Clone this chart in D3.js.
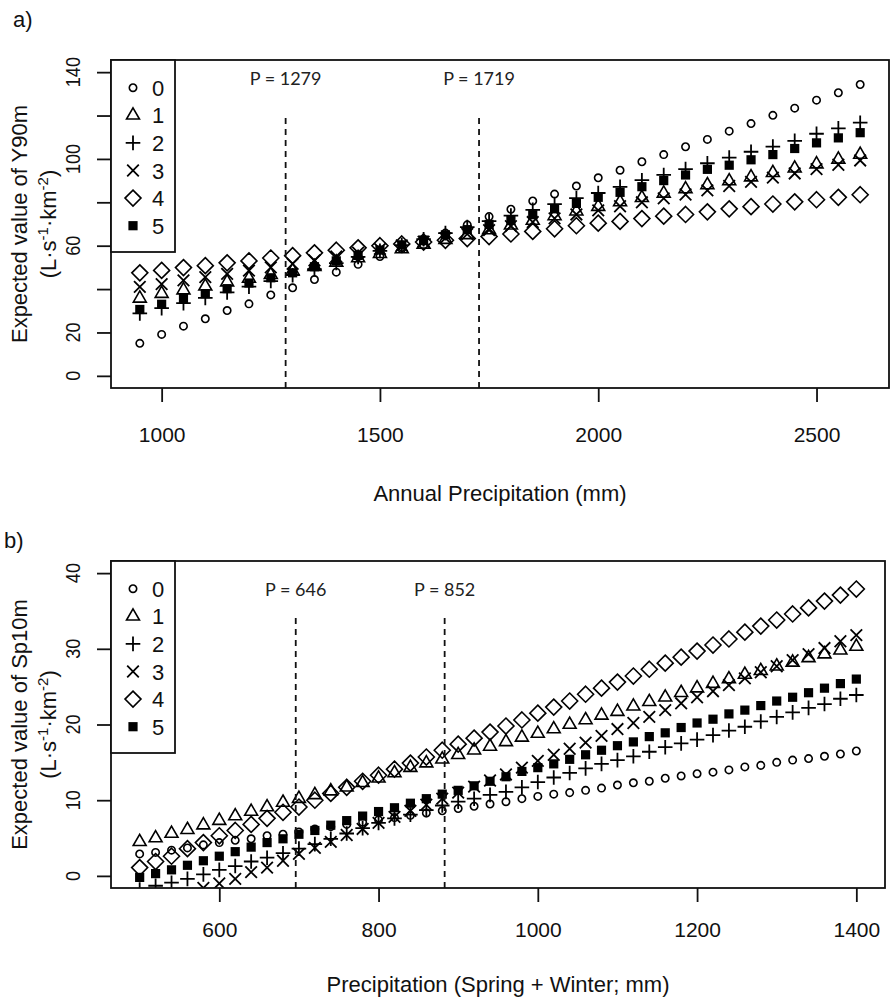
<!DOCTYPE html>
<html>
<head>
<meta charset="utf-8">
<script src="https://cdn.jsdelivr.net/npm/d3@7"></script>
<style>
  body { margin: 0; background: #fff; }
  text { font-family: "Liberation Sans", Arial, sans-serif; fill: #111; }
</style>
</head>
<body>
<script>
// ---- data ----
const precipA = [950, 1000, 1050, 1100, 1150, 1200, 1250, 1300, 1350, 1400, 1450, 1500, 1550, 1600, 1650, 1700, 1750,
  1800, 1850, 1900, 1950, 2000, 2050, 2100, 2150, 2200, 2250, 2300, 2350, 2400, 2450, 2500, 2550, 2600];

const y90_0 = [15.0, 19.1, 22.9, 26.3, 30.1, 33.2, 37.3, 40.6, 44.4, 47.8, 51.4, 55.0, 58.6, 62.1, 65.8, 69.6, 73.4,
  76.8, 80.6, 83.8, 87.5, 91.3, 94.8, 98.7, 102.0, 105.6, 109.0, 112.8, 116.3, 120.1, 123.4, 127.1, 130.5, 134.3];
const y90_1 = [35.7, 37.9, 39.5, 41.3, 43.2, 44.9, 46.6, 48.4, 50.3, 52.3, 54.3, 56.3, 58.5, 60.6, 62.8, 65.0, 67.2,
  69.4, 71.6, 73.7, 75.9, 78.0, 80.1, 82.1, 84.1, 86.1, 88.0, 89.8, 91.6, 93.6, 95.7, 97.6, 99.8, 102.0];
const y90_2 = [28.8, 31.2, 33.5, 35.9, 38.5, 41.1, 43.7, 46.4, 49.2, 52.0, 54.8, 57.6, 60.3, 63.0, 65.8, 68.6, 71.3,
  73.9, 76.5, 79.2, 81.9, 84.3, 87.1, 90.2, 92.6, 95.3, 98.0, 100.6, 103.3, 105.7, 108.3, 111.6, 114.1, 116.7];
const y90_3 = [41.0, 42.3, 44.0, 45.5, 47.0, 48.5, 50.0, 51.6, 53.2, 55.0, 56.8, 58.5, 60.1, 61.8, 63.5, 65.4, 67.2,
  69.0, 70.9, 72.6, 74.4, 76.3, 78.2, 80.0, 81.8, 83.6, 85.5, 87.5, 89.4, 91.4, 93.3, 95.3, 97.3, 99.3];
const y90_4 = [47.5, 48.6, 49.9, 50.8, 52.1, 53.0, 54.3, 55.4, 56.7, 57.9, 59.0, 60.0, 60.8, 61.7, 62.5, 63.3, 64.2,
  65.4, 66.6, 67.8, 69.2, 70.4, 71.2, 72.5, 73.6, 74.4, 75.6, 77.0, 78.0, 79.2, 80.2, 81.2, 82.3, 83.5];
const y90_5 = [30.6, 33.0, 35.6, 37.9, 40.2, 42.8, 45.2, 47.5, 50.3, 53.0, 55.5, 58.0, 60.4, 62.6, 65.0, 67.4, 69.8,
  71.6, 74.3, 77.0, 79.5, 82.3, 84.6, 87.2, 90.0, 92.6, 95.2, 97.1, 99.6, 102.0, 104.8, 107.4, 109.7, 112.1];

const precipB = [500, 520, 540, 560, 580, 600, 620, 640, 660, 680, 700, 720, 740, 760, 780, 800, 820, 840, 860, 880,
  900, 920, 940, 960, 980, 1000, 1020, 1040, 1060, 1080, 1100, 1120, 1140, 1160, 1180, 1200, 1220, 1240, 1260, 1280,
  1300, 1320, 1340, 1360, 1380, 1400];

const sp10_0 = [2.9, 3.1, 3.4, 3.7, 4.1, 4.4, 4.7, 4.9, 5.3, 5.5, 5.8, 6.2, 6.5, 6.8, 7.1, 7.4, 7.7, 8.0, 8.3, 8.6,
  8.9, 9.2, 9.5, 9.8, 10.2, 10.5, 10.8, 11.0, 11.3, 11.6, 12.0, 12.3, 12.5, 12.9, 13.2, 13.5, 13.7, 14.0, 14.4, 14.6,
  15.0, 15.3, 15.5, 15.8, 16.1, 16.5];
const sp10_1 = [4.5, 5.0, 5.6, 6.1, 6.7, 7.3, 7.9, 8.5, 9.1, 9.7, 10.2, 10.7, 11.2, 11.7, 12.3, 12.9, 13.6, 14.3, 14.9, 15.4,
  16.0, 16.6, 17.1, 17.7, 18.3, 18.8, 19.4, 20.0, 20.6, 21.2, 21.7, 22.4, 23.0, 23.6, 24.2, 24.8, 25.4, 26.0, 26.6, 27.1,
  27.7, 28.2, 28.8, 29.3, 29.8, 30.3];
const sp10_2 = [-1.8, -1.3, -0.9, -0.4, 0.2, 0.8, 1.3, 1.9, 2.4, 3.0, 3.6, 4.2, 4.9, 5.6, 6.3, 7.0, 7.6, 8.1, 8.7, 9.3,
  9.8, 10.2, 10.7, 11.1, 11.7, 12.4, 13.0, 13.6, 14.2, 14.8, 15.3, 15.8, 16.4, 17.0, 17.5, 18.0, 18.6, 19.2, 19.7, 20.4,
  21.0, 21.6, 22.2, 22.7, 23.4, 23.9];
const sp10_3 = [-4.8, -4.0, -3.2, -2.4, -1.6, -1.0, -0.4, 0.5, 1.1, 2.0, 2.9, 3.7, 4.5, 5.4, 6.2, 7.0, 7.8, 8.6, 9.4, 10.2,
  11.0, 11.8, 12.6, 13.4, 14.3, 15.2, 16.0, 16.8, 17.6, 18.5, 19.4, 20.2, 21.0, 21.9, 22.8, 23.6, 24.4, 25.2, 26.1, 26.9,
  27.7, 28.5, 29.3, 30.1, 31.0, 31.8];
const sp10_4 = [1.1, 1.9, 2.6, 3.6, 4.4, 5.3, 6.0, 6.8, 7.6, 8.4, 9.1, 10.0, 10.9, 11.7, 12.5, 13.3, 14.1, 14.9, 15.7, 16.6,
  17.4, 18.2, 19.0, 19.8, 20.6, 21.5, 22.3, 23.1, 24.0, 24.8, 25.6, 26.4, 27.3, 28.1, 28.9, 29.7, 30.5, 31.3, 32.2, 33.0,
  33.8, 34.6, 35.4, 36.3, 37.1, 37.9];
const sp10_5 = [-0.2, 0.3, 0.8, 1.4, 2.0, 2.6, 3.2, 3.8, 4.4, 4.9, 5.5, 6.0, 6.7, 7.3, 7.9, 8.5, 9.0, 9.6, 10.2, 10.8,
  11.3, 11.9, 12.5, 13.1, 13.8, 14.3, 14.8, 15.4, 16.0, 16.6, 17.2, 17.7, 18.4, 18.9, 19.6, 20.2, 20.7, 21.4, 21.9, 22.5,
  23.1, 23.6, 24.2, 24.8, 25.4, 26.0];

const groupNames = ['0', '1', '2', '3', '4', '5'];

const xTicksA = [1000, 1500, 2000, 2500];
const yTicksA = [0, 20, 40, 60, 80, 100, 120, 140];
const yLabelsA = [0, 20, 60, 100, 140];
const xTicksB = [600, 800, 1000, 1200, 1400];
const yTicksB = [0, 10, 20, 30, 40];
const yLabelsB = [0, 10, 20, 30, 40];

// thresholds: where the dashed lines sit, and what they say
const cutsA = [1284, 1727];
const cutLabelsA = ['P = 1279', 'P = 1719'];
const cutsB = [696, 883];
const cutLabelsB = ['P = 646', 'P = 852'];

// ---- marker shapes (R pch 1, 2, 3, 4, 5, 15) ----
const shapes = [
  { draw(c, r) { c.moveTo(r, 0); c.arc(0, 0, r, 0, 2 * Math.PI); } },
  { draw(c, r) { c.moveTo(0, -1.555 * r); c.lineTo(1.347 * r, 0.778 * r); c.lineTo(-1.347 * r, 0.778 * r); c.closePath(); } },
  { draw(c, r) { c.moveTo(-r, 0); c.lineTo(r, 0); c.moveTo(0, -r); c.lineTo(0, r); } },
  { draw(c, r) { c.moveTo(-r, -r); c.lineTo(r, r); c.moveTo(-r, r); c.lineTo(r, -r); } },
  { draw(c, r) { c.moveTo(0, -r); c.lineTo(r, 0); c.lineTo(0, r); c.lineTo(-r, 0); c.closePath(); } },
  { draw(c, r) { c.rect(-r, -r, 2 * r, 2 * r); } }
];
const shapeSize = [3.7, 4.8, 7.3, 5.8, 8, 4.6];
const shapeFilled = [false, false, false, false, false, true];

function styleMarker(sel, i) {
  sel.attr('d', d3.symbol().type(shapes[i]).size(shapeSize[i]))
    .attr('fill', shapeFilled[i] ? '#000' : 'none')
    .attr('stroke', shapeFilled[i] ? 'none' : '#000')
    .attr('stroke-width', i === 2 || i === 3 ? 1.8 : 1.6);
}

const svg = d3.select('body').append('svg')
  .attr('width', 891)
  .attr('height', 1003);

svg.append('rect').attr('width', 891).attr('height', 1003).attr('fill', '#fff');

const panels = [
  {
    id: 'a', tag: 'a)', tagX: 13, tagY: 27,
    precip: precipA, series: [y90_0, y90_1, y90_2, y90_3, y90_4, y90_5],
    xDomain: [884, 2666], yDomain: [-5.6, 145.6],
    left: 111, right: 889, top: 60, bottom: 388,
    xTicks: xTicksA, yTicks: yTicksA, yLabels: yLabelsA,
    cuts: cutsA, cutLabels: cutLabelsA, cutTop: 118, cutLabelY: 85,
    tickPad: 25, xTitleY: 501,
    yTitle: 'Expected value of Y90m', xTitle: 'Annual Precipitation (mm)'
  },
  {
    id: 'b', tag: 'b)', tagX: 4, tagY: 548,
    precip: precipB, series: [sp10_0, sp10_1, sp10_2, sp10_3, sp10_4, sp10_5],
    xDomain: [464, 1436], yDomain: [-1.6, 41.6],
    left: 111, right: 885, top: 561, bottom: 888,
    xTicks: xTicksB, yTicks: yTicksB, yLabels: yLabelsB,
    cuts: cutsB, cutLabels: cutLabelsB, cutTop: 618, cutLabelY: 596,
    tickPad: 20, xTitleY: 992,
    yTitle: 'Expected value of Sp10m', xTitle: 'Precipitation (Spring + Winter; mm)'
  }
];

panels.forEach(p => {
  const x = d3.scaleLinear().domain(p.xDomain).range([p.left, p.right]);
  const y = d3.scaleLinear().domain(p.yDomain).range([p.bottom, p.top]);
  const g = svg.append('g').attr('class', 'panel-' + p.id);

  // panel tag
  g.append('text')
    .attr('x', p.tagX).attr('y', p.tagY)
    .style('font-size', '22px')
    .text(p.tag);

  // clip to the plot region like R does
  g.append('clipPath').attr('id', 'clip-' + p.id)
    .append('rect')
    .attr('x', p.left).attr('y', p.top)
    .attr('width', p.right - p.left).attr('height', p.bottom - p.top);

  // points
  const pts = g.append('g').attr('clip-path', `url(#clip-${p.id})`);
  p.series.forEach((vals, i) => {
    pts.append('g')
      .selectAll('path')
      .data(vals.map((v, k) => ({ x: p.precip[k], y: v })))
      .join('path')
      .attr('transform', d => `translate(${x(d.x)},${y(d.y)})`)
      .call(styleMarker, i);
  });

  // dashed threshold lines
  g.selectAll('.cut')
    .data(p.cuts)
    .join('line')
    .attr('class', 'cut')
    .attr('x1', d => x(d)).attr('x2', d => x(d))
    .attr('y1', p.cutTop).attr('y2', p.bottom)
    .attr('stroke', '#111')
    .attr('stroke-width', 1.8)
    .attr('stroke-dasharray', '6,5');

  g.selectAll('.cut-label')
    .data(p.cuts)
    .join('text')
    .attr('class', 'cut-label')
    .attr('x', d => x(d)).attr('y', p.cutLabelY)
    .attr('text-anchor', 'middle')
    .style('font-family', 'Lato, "Open Sans", sans-serif')
    .style('font-size', '18px')
    .style('fill', '#222')
    .text((d, i) => p.cutLabels[i]);

  // x axis
  const xAxis = d3.axisBottom(x)
    .tickValues(p.xTicks)
    .tickSize(14)
    .tickPadding(p.tickPad)
    .tickFormat(d3.format('d'));
  const gx = g.append('g')
    .attr('transform', `translate(0,${p.bottom})`)
    .call(xAxis);
  gx.select('.domain').remove();
  gx.selectAll('.tick line').attr('stroke', '#111').attr('stroke-width', 1.8);
  gx.selectAll('.tick text')
    .attr('fill', '#111')
    .style('font-family', '"Liberation Sans", Arial, sans-serif')
    .style('font-size', '21px');

  // y axis: ticks from d3, labels rotated like R (las = 0)
  const gy = g.append('g')
    .attr('transform', `translate(${p.left},0)`)
    .call(d3.axisLeft(y).tickValues(p.yTicks).tickSize(14).tickFormat(''));
  gy.select('.domain').remove();
  gy.selectAll('.tick line').attr('stroke', '#111').attr('stroke-width', 1.8);

  g.selectAll('.ylab')
    .data(p.yLabels)
    .join('text')
    .attr('class', 'ylab')
    .attr('transform', d => `translate(80,${y(d)}) rotate(-90) scale(0.86,1)`)
    .attr('text-anchor', 'middle')
    .style('font-size', '21px')
    .text(d => d);

  // plot box
  g.append('rect')
    .attr('x', p.left).attr('y', p.top)
    .attr('width', p.right - p.left).attr('height', p.bottom - p.top)
    .attr('fill', 'none')
    .attr('stroke', '#111')
    .attr('stroke-width', 1.8);

  // legend
  const leg = g.append('g').attr('transform', `translate(${p.left},${p.top})`);
  leg.append('rect')
    .attr('width', 64).attr('height', 192)
    .attr('fill', '#fff')
    .attr('stroke', '#111')
    .attr('stroke-width', 1.8);
  groupNames.forEach((name, i) => {
    const row = 27.7 + i * 27.6;
    leg.append('path')
      .attr('transform', `translate(22,${row})`)
      .call(styleMarker, i);
    leg.append('text')
      .attr('x', 41).attr('y', row + 8)
      .style('font-size', '22px')
      .text(name);
  });

  // axis titles
  const midY = (p.top + p.bottom) / 2;
  g.append('text')
    .attr('x', (p.left + p.right) / 2).attr('y', p.xTitleY)
    .attr('text-anchor', 'middle')
    .style('font-size', '22px')
    .text(p.xTitle);

  g.append('text')
    .attr('transform', `translate(27,${midY}) rotate(-90)`)
    .attr('text-anchor', 'middle')
    .style('font-size', '22px')
    .text(p.yTitle);

  const unit = g.append('text')
    .attr('transform', `translate(56,${midY}) rotate(-90)`)
    .attr('text-anchor', 'middle')
    .style('font-size', '22px');
  unit.append('tspan').text('(L\u00b7s');
  unit.append('tspan').attr('dy', -8).style('font-size', '15px').text('-1');
  unit.append('tspan').attr('dy', 8).text('\u00b7km');
  unit.append('tspan').attr('dy', -8).style('font-size', '15px').text('-2');
  unit.append('tspan').attr('dy', 8).text(')');
});
</script>
</body>
</html>
